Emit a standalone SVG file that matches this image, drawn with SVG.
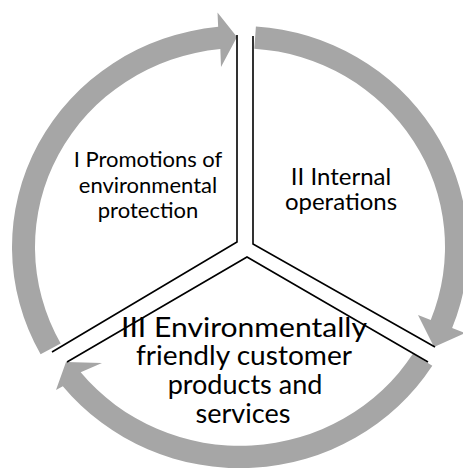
<svg xmlns="http://www.w3.org/2000/svg" width="463" height="468" viewBox="0 0 463 468">
<style>
.arrow{fill:#a6a6a6;stroke:none}
.wall{fill:none;stroke:#000;stroke-width:1.6;stroke-linejoin:miter}
.t{font-family:"Lato","Open Sans",sans-serif;fill:#000;text-anchor:middle}
.t1{font-size:22px}
.t2{font-size:24px}
.t3{font-size:27px}
</style>
<rect width="463" height="468" fill="#fff"/>
<g id="ring">
  <g id="node-1">
    <path class="arrow" d="M40.59,354.22 A228,221.16 0 0 1 218.15,26.86 L217.5,12.5 L237,37 L221,67 L220.35,49.07 A205,198.85 0 0 0 60.70,343.40 Z"/>
  </g>
  <g id="node-2">
    <path class="arrow" d="M255.90,26.38 A228,221.16 0 0 1 452.13,328.06 L465,333 L434,347 L418,315 L430.74,319.88 A205,198.85 0 0 0 254.30,48.63 Z"/>
  </g>
  <g id="node-3">
    <path class="arrow" d="M432.29,365.83 A228,221.16 0 0 1 62.81,386.18 L56,390 L66,362 L102,363 L80.69,372.14 A205,198.85 0 0 0 412.90,353.84 Z"/>
  </g>
</g>
<g id="dividers">
  <polyline class="wall" points="52,352 237,242 237,35"/>
  <polyline class="wall" points="253,36 253,244 435,347"/>
  <polyline class="wall" points="428,362 247,257 67,362"/>
</g>
<g id="label-1">
  <text class="t t1" x="148" y="167">I Promotions of</text>
  <text class="t t1" x="148" y="193">environmental</text>
  <text class="t t1" x="148" y="218">protection</text>
</g>
<g id="label-2">
  <text class="t t2" x="341" y="185">II Internal</text>
  <text class="t t2" x="341" y="210">operations</text>
</g>
<g id="label-3">
  <text class="t t3" x="244" y="337" textLength="246" lengthAdjust="spacingAndGlyphs">III Environmentally</text>
  <text class="t t3" x="244" y="365" textLength="216" lengthAdjust="spacingAndGlyphs">friendly customer</text>
  <text class="t t3" x="245" y="394">products and</text>
  <text class="t t3" x="243" y="423">services</text>
</g>
</svg>
